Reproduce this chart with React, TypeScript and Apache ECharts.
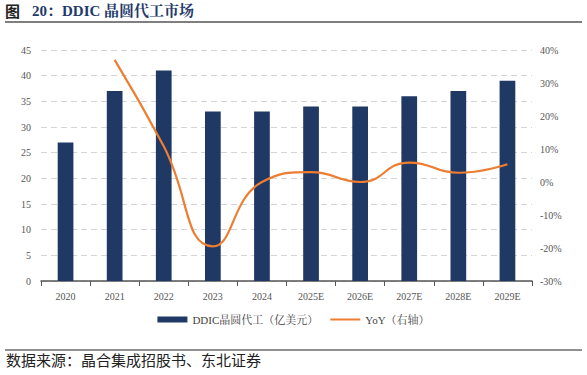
import React, { useEffect, useRef } from "react";
import * as echarts from "echarts";

const categories = ["2020", "2021", "2022", "2023", "2024", "2025E", "2026E", "2027E", "2028E", "2029E"];
const revenue = [27, 37, 41, 33, 33, 34, 34, 36, 37, 39];
const yoy = [null, 37.0, 10.8, -19.5, 0.0, 3.0, 0.0, 5.9, 2.8, 5.4];
const leftTicks = [0, 45, 5];
const rightTicks = [-30, 40, 10];

const SERIF = "'Liberation Serif', 'DejaVu Serif', 'Noto Serif CJK SC', 'Noto Sans CJK SC', serif";
const CJK = "'Noto Sans CJK SC', sans-serif";

export default function App() {
  const ref = useRef<HTMLDivElement>(null);
  useEffect(() => {
    const chart = echarts.init(ref.current!, null, { renderer: "svg" });
    chart.setOption({
      animation: false,
      backgroundColor: "#ffffff",
      textStyle: { fontFamily: SERIF },
      grid: { left: 41, right: 55, top: 50, bottom: 94 },
      graphic: [
        {
          type: "text",
          left: 5,
          top: 3,
          style: {
            text: "{a|图}{s| }{b|20：DDIC 晶圆代工市场}",
            rich: {
              a: { fontSize: 15, fontWeight: "bold", fill: "#222", fontFamily: CJK },
              s: { fontSize: 15, width: 12 },
              b: { fontSize: 15, fontWeight: "bold", fill: "#1F3A6B", fontFamily: SERIF },
            },
          },
        },
        { type: "line", shape: { x1: 5, y1: 22, x2: 582, y2: 22 }, style: { stroke: "#555", lineWidth: 1.5 } },
        { type: "line", shape: { x1: 5, y1: 350, x2: 582, y2: 350 }, style: { stroke: "#222", lineWidth: 1 } },
        {
          type: "text",
          left: 6,
          top: 352,
          style: { text: "数据来源：晶合集成招股书、东北证券", fontSize: 15, fill: "#222", fontFamily: CJK },
        },
      ],
      legend: {
        bottom: 45,
        left: "center",
        itemGap: 12,
        itemWidth: 30,
        itemHeight: 6,
        textStyle: { fontSize: 11, color: "#444", fontFamily: SERIF },
        data: [
          { name: "DDIC晶圆代工（亿美元）", icon: "rect" },
          {
            name: "YoY（右轴）",
            icon: "path://M0,0 L0.01,0 L0.01,0.01 L0,0.01 Z M0,2 L30,2 L30,4 L0,4 Z M29.99,5.99 L30,5.99 L30,6 L29.99,6 Z",
            itemStyle: { color: "#ED7D31" },
          },
        ],
      },
      xAxis: {
        type: "category",
        data: categories,
        axisLine: { lineStyle: { color: "#555", width: 1.5 } },
        axisTick: { show: true, lineStyle: { color: "#555" }, length: 5 },
        axisLabel: { color: "#555", fontSize: 10, margin: 10 },
      },
      yAxis: [
        {
          type: "value",
          min: leftTicks[0],
          max: leftTicks[1],
          interval: leftTicks[2],
          axisLine: { show: false },
          axisTick: { show: false },
          axisLabel: { color: "#555", fontSize: 10, margin: 10 },
          splitLine: { lineStyle: { color: "#d4d4d4", type: [6, 4] } },
        },
        {
          type: "value",
          min: rightTicks[0],
          max: rightTicks[1],
          interval: rightTicks[2],
          axisLine: { show: false },
          axisTick: { show: false },
          axisLabel: { color: "#555", fontSize: 10, margin: 8, formatter: "{value}%" },
          splitLine: { show: false },
        },
      ],
      series: [
        {
          name: "DDIC晶圆代工（亿美元）",
          type: "bar",
          data: revenue,
          barWidth: "32%",
          itemStyle: { color: "#1F3864" },
        },
        {
          name: "YoY（右轴）",
          type: "line",
          yAxisIndex: 1,
          data: yoy,
          smooth: 0.5,
          showSymbol: false,
          lineStyle: { color: "#ED7D31", width: 2.2 },
          itemStyle: { color: "#ED7D31" },
        },
      ],
    });
    return () => chart.dispose();
  }, []);
  return <div ref={ref} style={{ position: "fixed", left: 0, top: 0, width: 587, height: 375 }} />;
}
